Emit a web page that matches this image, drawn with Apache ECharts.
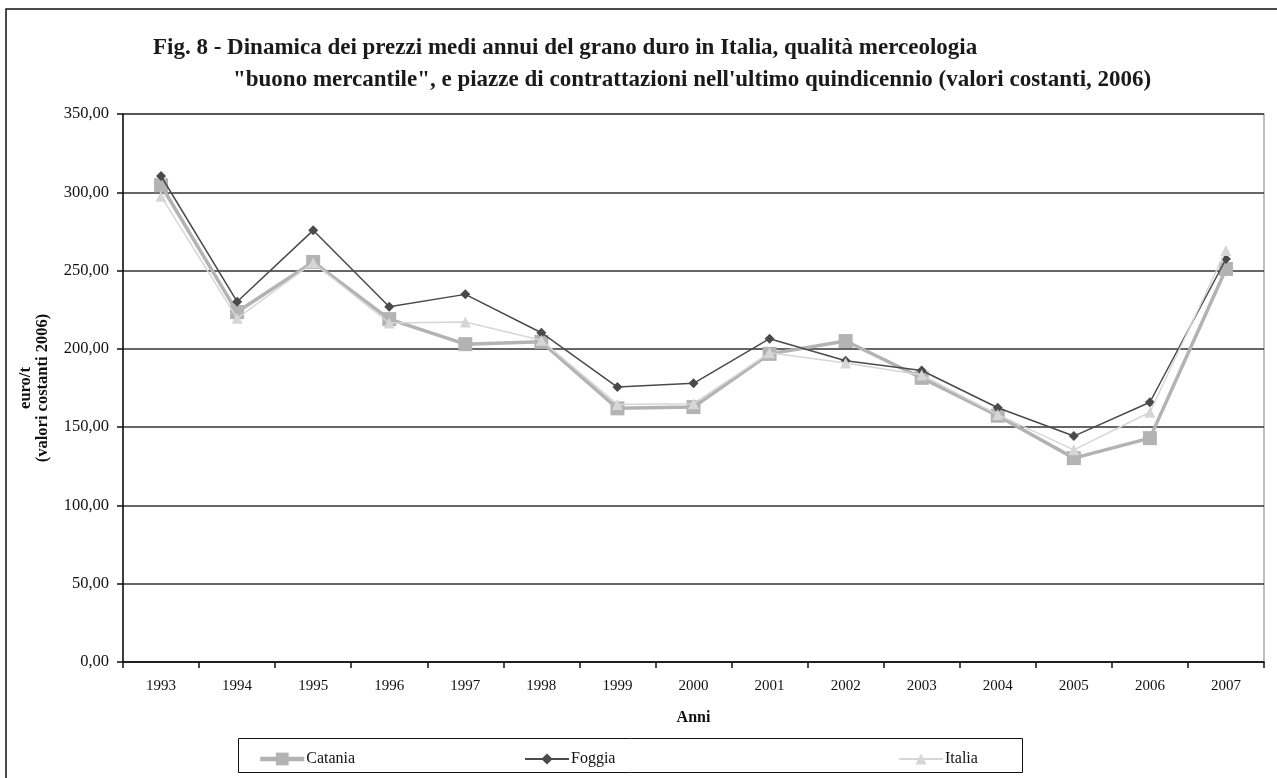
<!DOCTYPE html>
<html>
<head>
<meta charset="utf-8">
<script src="https://cdn.jsdelivr.net/npm/echarts@6/dist/echarts.min.js"></script>
<style>
  html, body { margin: 0; padding: 0; background: #fff; }
  #chart { width: 1277px; height: 778px; }
</style>
</head>
<body>
<div id="chart"></div>
<script>
// Anni di rilevazione
const anni = ['1993','1994','1995','1996','1997','1998','1999','2000','2001','2002','2003','2004','2005','2006','2007'];

// Prezzi medi annui, euro/t a valori costanti 2006
const catania = [304.5, 223.5, 255.5, 219.0, 203.0, 204.5, 162.0, 162.8, 196.8, 205.0, 181.5, 157.3, 130.2, 143.0, 251.0];
const foggia  = [310.4, 230.1, 275.7, 226.9, 234.8, 210.3, 175.6, 178.0, 206.5, 192.4, 186.2, 162.4, 144.3, 165.9, 257.4];
const italia  = [297.5, 219.5, 255.0, 216.5, 217.2, 205.5, 164.5, 165.0, 197.5, 191.0, 183.3, 158.0, 135.5, 159.5, 262.8];

// Tacche dell'asse dei valori
const yTicks = [0, 50, 100, 150, 200, 250, 300, 350];

const serif = "'Liberation Serif', 'Times New Roman', 'DejaVu Serif', serif";

const chart = echarts.init(document.getElementById('chart'), null, { renderer: 'canvas' });

const legendText = { fontFamily: serif, fontSize: 16, color: '#111', padding: [0, 0, 0, -3] };

chart.setOption({
  animation: false,
  backgroundColor: '#fff',
  title: [
    {
      text: 'Fig. 8 - Dinamica dei prezzi medi annui del grano duro in Italia, qualità merceologia',
      left: 148, top: 32,
      textStyle: { fontFamily: serif, fontSize: 23, fontWeight: 'bold', color: '#1a1a1a' }
    },
    {
      text: '"buono mercantile", e piazze di contrattazioni nell\'ultimo quindicennio (valori costanti, 2006)',
      left: 228, top: 64,
      textStyle: { fontFamily: serif, fontSize: 23, fontWeight: 'bold', color: '#1a1a1a' }
    }
  ],
  graphic: [
    {
      type: 'rect', silent: true, z: -10,
      shape: { x: 6, y: 9, width: 1300, height: 800 },
      style: { fill: 'none', stroke: '#111', lineWidth: 1.5 }
    },
    {
      type: 'rect', silent: true, z: -10,
      shape: { x: 238.5, y: 738.5, width: 784, height: 34 },
      style: { fill: '#fff', stroke: '#111', lineWidth: 1 }
    }
  ],
  grid: {
    left: 123, right: 13, top: 114, bottom: 116,
    show: true, borderColor: '#aaa', borderWidth: 1.5, backgroundColor: 'transparent'
  },
  legend: [
    { data: ['Catania'], left: 253, top: 746, itemWidth: 44, itemHeight: 16, itemGap: 3, textStyle: legendText, lineStyle: { width: 4.5 } },
    { data: ['Foggia'],  left: 519, top: 746, itemWidth: 44, itemHeight: 14, itemGap: 3, textStyle: legendText, lineStyle: { width: 2 } },
    { data: ['Italia'],  left: 893, top: 746, itemWidth: 44, itemHeight: 14, itemGap: 3, textStyle: legendText, lineStyle: { width: 2 } }
  ],
  xAxis: {
    type: 'category',
    data: anni,
    boundaryGap: true,
    name: 'Anni',
    nameLocation: 'middle',
    nameGap: 48,
    nameTextStyle: { fontFamily: serif, fontSize: 16, fontWeight: 'bold', color: '#111' },
    axisLine: { lineStyle: { color: '#111', width: 1.5 } },
    axisTick: { show: true, interval: 0, length: 6, lineStyle: { color: '#111', width: 1.5 } },
    axisLabel: { interval: 0, margin: 17, fontFamily: serif, fontSize: 15, color: '#111' },
    splitLine: { show: false }
  },
  yAxis: {
    type: 'value',
    min: yTicks[0],
    max: yTicks[yTicks.length - 1],
    interval: yTicks[1] - yTicks[0],
    name: 'euro/t\n(valori costanti 2006)',
    nameLocation: 'middle',
    nameRotate: 90,
    nameGap: 72,
    nameTextStyle: { fontFamily: serif, fontSize: 16.5, fontWeight: 'bold', color: '#111', lineHeight: 17, align: 'center' },
    axisLine: { show: true, lineStyle: { color: '#111', width: 1.5 } },
    axisTick: { show: true, length: 6, lineStyle: { color: '#111', width: 1.5 } },
    axisLabel: {
      margin: 14, fontFamily: serif, fontSize: 16.5, color: '#111',
      formatter: v => v.toFixed(2).replace('.', ',')
    },
    splitLine: { show: true, lineStyle: { color: '#333', width: 1.5 } }
  },
  series: [
    {
      name: 'Catania', type: 'line', data: catania,
      symbol: 'rect', symbolSize: 14, showAllSymbol: true,
      lineStyle: { color: '#b3b3b3', width: 3.5 },
      itemStyle: { color: '#b3b3b3' },
      z: 2
    },
    {
      name: 'Foggia', type: 'line', data: foggia,
      symbol: 'diamond', symbolSize: 10, showAllSymbol: true,
      lineStyle: { color: '#4a4a4a', width: 1.5 },
      itemStyle: { color: '#4a4a4a' },
      z: 3
    },
    {
      name: 'Italia', type: 'line', data: italia,
      symbol: 'triangle', symbolSize: 11, showAllSymbol: true,
      lineStyle: { color: '#d6d6d6', width: 1.5 },
      itemStyle: { color: '#d6d6d6' },
      z: 4
    }
  ]
});
</script>
</body>
</html>
